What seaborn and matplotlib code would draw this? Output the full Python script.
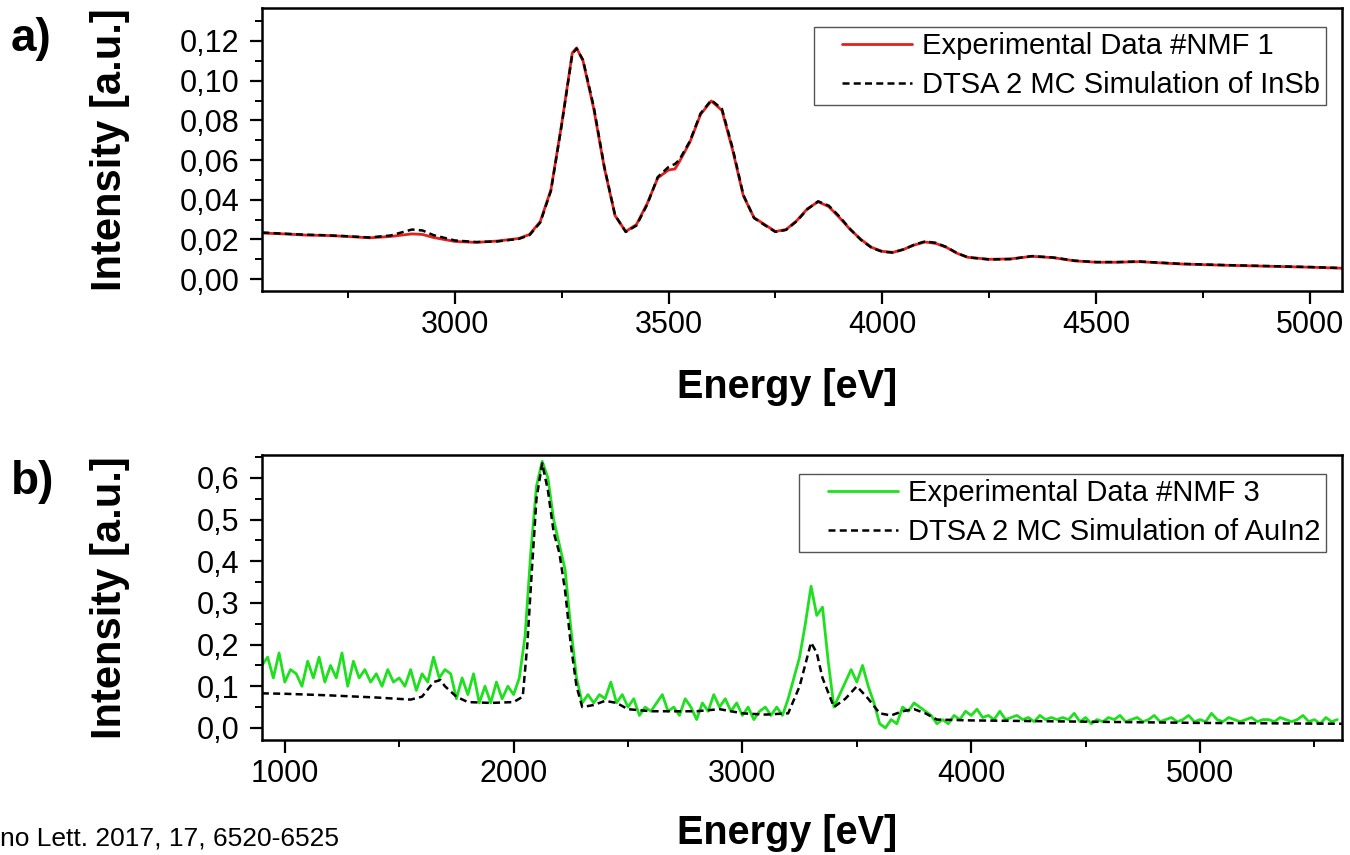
"""EDX spectra of NMF components compared with DTSA 2 Monte Carlo simulations"""
# %% Imports
import numpy as np
import pandas as pd
import seaborn as sns
from matplotlib import pyplot as plt
from matplotlib.lines import Line2D
from matplotlib.legend_handler import HandlerLine2D
from matplotlib.ticker import MultipleLocator, FuncFormatter

# %% Data
# panel a) - NMF component 1 vs InSb simulation
energy_a = [2550, 2600, 2650, 2700, 2750, 2800, 2850, 2900, 2925, 2950, 3000, 3050, 3100, 3150, 3175,
            3200, 3225, 3250, 3275, 3285, 3300, 3325, 3350, 3375, 3400, 3425, 3450, 3475, 3500, 3515,
            3525, 3550, 3575, 3600, 3625, 3650, 3675, 3700, 3725, 3750, 3775, 3800, 3825, 3850, 3875,
            3900, 3925, 3950, 3975, 4000, 4025, 4050, 4075, 4100, 4125, 4150, 4175, 4200, 4250, 4300,
            4350, 4400, 4450, 4500, 4550, 4600, 4650, 4700, 4800, 4900, 5000, 5075]
nmf1_intensity = [0.0232, 0.0228, 0.0222, 0.0220, 0.0215, 0.0208, 0.0215, 0.0228, 0.0225, 0.0210, 0.0190,
                  0.0185, 0.0192, 0.0205, 0.0225, 0.0290, 0.0450, 0.0780, 0.1140, 0.1165, 0.1100, 0.0860,
                  0.0560, 0.0320, 0.0240, 0.0275, 0.0380, 0.0510, 0.0550, 0.0555, 0.0590, 0.0690, 0.0830,
                  0.0898, 0.0850, 0.0650, 0.0420, 0.0310, 0.0275, 0.0240, 0.0250, 0.0295, 0.0355, 0.0390,
                  0.0365, 0.0310, 0.0250, 0.0200, 0.0160, 0.0140, 0.0135, 0.0150, 0.0172, 0.0187, 0.0180,
                  0.0160, 0.0130, 0.0110, 0.0100, 0.0102, 0.0115, 0.0108, 0.0092, 0.0085, 0.0085, 0.0088,
                  0.0082, 0.0076, 0.0070, 0.0065, 0.0060, 0.0055]
insb_sim_intensity = [0.0235, 0.0229, 0.0224, 0.0221, 0.0216, 0.0210, 0.0220, 0.0250, 0.0245, 0.0222, 0.0195,
                      0.0187, 0.0190, 0.0203, 0.0222, 0.0285, 0.0445, 0.0775, 0.1135, 0.1162, 0.1105, 0.0870,
                      0.0565, 0.0322, 0.0238, 0.0270, 0.0375, 0.0515, 0.0565, 0.0580, 0.0600, 0.0695, 0.0835,
                      0.0902, 0.0858, 0.0660, 0.0425, 0.0308, 0.0272, 0.0238, 0.0248, 0.0292, 0.0352, 0.0392,
                      0.0370, 0.0315, 0.0252, 0.0198, 0.0158, 0.0138, 0.0134, 0.0150, 0.0174, 0.0190, 0.0183,
                      0.0162, 0.0131, 0.0110, 0.0099, 0.0101, 0.0116, 0.0109, 0.0093, 0.0086, 0.0086, 0.0089,
                      0.0083, 0.0077, 0.0071, 0.0066, 0.0061, 0.0056]

# panel b) - NMF component 3 vs AuIn2 simulation
energy_b_sim = [900, 1000, 1200, 1400, 1550, 1600, 1650, 1680, 1700, 1750, 1800, 1900, 2000, 2040, 2060,
                2080, 2100, 2125, 2150, 2175, 2200, 2225, 2250, 2275, 2300, 2350, 2400, 2450, 2500, 2600,
                2800, 2900, 3000, 3100, 3200, 3250, 3300, 3325, 3350, 3400, 3450, 3500, 3550, 3600, 3650,
                3700, 3750, 3800, 3850, 4000, 4500, 5000, 5620]
auin2_sim_intensity = [0.083, 0.082, 0.078, 0.073, 0.068, 0.075, 0.110, 0.115, 0.100, 0.075, 0.062, 0.060,
                       0.062, 0.075, 0.200, 0.380, 0.550, 0.635, 0.570, 0.470, 0.420, 0.330, 0.200, 0.100,
                       0.050, 0.055, 0.065, 0.060, 0.045, 0.040, 0.040, 0.045, 0.035, 0.032, 0.035, 0.100,
                       0.205, 0.180, 0.120, 0.050, 0.070, 0.100, 0.070, 0.035, 0.030, 0.040, 0.045, 0.035,
                       0.020, 0.018, 0.015, 0.012, 0.010]
energy_b_exp = np.arange(900, 5625, 25)  # detector channels, 25 eV wide
nmf3_intensity = [0.15, 0.17, 0.12, 0.18, 0.11, 0.14, 0.13, 0.10, 0.16, 0.12,
                  0.17, 0.11, 0.15, 0.12, 0.18, 0.10, 0.16, 0.12, 0.14, 0.11,
                  0.13, 0.10, 0.14, 0.11, 0.12, 0.10, 0.14, 0.09, 0.13, 0.11,
                  0.17, 0.12, 0.14, 0.13, 0.07, 0.12, 0.08, 0.13, 0.06, 0.10,
                  0.06, 0.11, 0.07, 0.10, 0.08, 0.12, 0.22, 0.42, 0.58, 0.64,
                  0.60, 0.50, 0.44, 0.38, 0.24, 0.12, 0.06, 0.08, 0.06, 0.08,
                  0.07, 0.11, 0.06, 0.08, 0.05, 0.07, 0.03, 0.05, 0.04, 0.06,
                  0.08, 0.04, 0.05, 0.03, 0.07, 0.05, 0.02, 0.06, 0.04, 0.08,
                  0.05, 0.07, 0.04, 0.06, 0.03, 0.05, 0.02, 0.04, 0.05, 0.03,
                  0.05, 0.03, 0.07, 0.12, 0.17, 0.25, 0.34, 0.27, 0.29, 0.16,
                  0.05, 0.08, 0.11, 0.14, 0.11, 0.15, 0.10, 0.06, 0.01, 0.00,
                  0.02, 0.01, 0.05, 0.04, 0.06, 0.05, 0.04, 0.03, 0.01, 0.02,
                  0.01, 0.03, 0.02, 0.04, 0.03, 0.045, 0.025, 0.03, 0.02, 0.04,
                  0.02, 0.025, 0.03, 0.02, 0.025, 0.015, 0.03, 0.02, 0.025, 0.02,
                  0.025, 0.02, 0.035, 0.015, 0.025, 0.01, 0.02, 0.015, 0.025, 0.02,
                  0.03, 0.015, 0.02, 0.025, 0.015, 0.02, 0.03, 0.015, 0.02, 0.025,
                  0.015, 0.02, 0.03, 0.015, 0.02, 0.015, 0.035, 0.02, 0.015, 0.025,
                  0.02, 0.015, 0.02, 0.025, 0.015, 0.02, 0.02, 0.015, 0.025, 0.02,
                  0.015, 0.02, 0.03, 0.015, 0.02, 0.01, 0.025, 0.015, 0.02]

# %% Global variables
RED = "#e3211c"
GREEN = "#1fe01f"
DASH = (0, (2.8, 1.7))
FONT = ["Liberation Sans", "DejaVu Sans"]


# %% Functions


def _style_axis(ax, xlim, ylim, x_major, x_minor, y_major, y_minor, y_decimals):
    ax.set_xlim(*xlim)
    ax.set_ylim(*ylim)
    ax.xaxis.set_major_locator(MultipleLocator(x_major))
    ax.xaxis.set_minor_locator(MultipleLocator(x_minor))
    ax.yaxis.set_major_locator(MultipleLocator(y_major))
    ax.yaxis.set_minor_locator(MultipleLocator(y_minor))
    ax.yaxis.set_major_formatter(FuncFormatter(lambda v, _: f"{v:.{y_decimals}f}".replace(".", ",")))
    ax.xaxis.set_major_formatter(FuncFormatter(lambda v, _: f"{v:.0f}"))
    ax.tick_params(which="major", direction="out", length=9, width=1.6, labelsize=22,
                   colors="black", top=False, right=False)
    ax.tick_params(which="minor", direction="out", length=5, width=1.4, colors="black",
                   top=False, right=False)
    ax.tick_params(axis="x", which="major", pad=5)
    ax.tick_params(axis="y", which="major", pad=7)
    for spine in ax.spines.values():
        spine.set_visible(True)
        spine.set_linewidth(1.8)
        spine.set_color("black")
    ax.set_ylabel("Intensity [a.u.]", fontsize=30, fontweight="bold", color="black")
    ax.yaxis.set_label_coords(-0.122, 0.5)
    ax.set_xlabel("Energy [eV]", fontsize=28.5, fontweight="bold", color="black")


def _legend(ax, anchor):
    # xpad pushes the line handle in from the frame, like the original legend box
    leg = ax.legend(loc="upper right", bbox_to_anchor=anchor, frameon=True, fancybox=False,
                    handlelength=3.2, handletextpad=0.35, labelspacing=0.38,
                    borderpad=0.18, borderaxespad=0, prop={"family": FONT, "size": 21},
                    handler_map={Line2D: HandlerLine2D(xpad=0.8)})
    leg.get_frame().set_edgecolor("#555555")
    leg.get_frame().set_linewidth(1.0)
    leg.get_frame().set_alpha(1)
    for text in leg.get_texts():
        text.set_color("black")
    return leg


# %% Plotting
sns.set_theme(style="ticks")
plt.rcParams["font.family"] = FONT
plt.rcParams["text.color"] = "black"

df_a = pd.DataFrame({"energy": energy_a, "exp": nmf1_intensity, "sim": insb_sim_intensity})
df_b_exp = pd.DataFrame({"energy": energy_b_exp, "exp": nmf3_intensity})
df_b_sim = pd.DataFrame({"energy": energy_b_sim, "sim": auin2_sim_intensity})

f = plt.figure(figsize=(13.5, 8.55), dpi=100)
ax1 = f.add_axes([0.194, 0.6596, 0.800, 0.331])
ax2 = f.add_axes([0.194, 0.1345, 0.800, 0.3333])

sns.lineplot(data=df_a, x="energy", y="exp", ax=ax1, color=RED, linewidth=2.0,
             label="Experimental Data #NMF 1")
sns.lineplot(data=df_a, x="energy", y="sim", ax=ax1, color="black", linewidth=1.8,
             linestyle=DASH, label="DTSA 2 MC Simulation of InSb")
_style_axis(ax1, (2549, 5075), (-0.006, 0.1366), 500, 250, 0.02, 0.01, 2)
ax1.xaxis.set_label_coords(0.486, -0.272)
_legend(ax1, (0.985, 0.933))

sns.lineplot(data=df_b_exp, x="energy", y="exp", ax=ax2, color=GREEN, linewidth=2.0,
             label="Experimental Data #NMF 3")
sns.lineplot(data=df_b_sim, x="energy", y="sim", ax=ax2, color="black", linewidth=1.8,
             linestyle=DASH, label="DTSA 2 MC Simulation of AuIn2")
_style_axis(ax2, (900, 5620), (-0.029, 0.655), 1000, 500, 0.1, 0.05, 1)
ax2.xaxis.set_label_coords(0.486, -0.258)
_legend(ax2, (0.985, 0.933))

f.text(0.008, 0.954, "a)", fontsize=33, fontweight="bold", va="center", ha="left")
f.text(0.008, 0.436, "b)", fontsize=33, fontweight="bold", va="center", ha="left")
f.text(0.0, 0.019, "no Lett. 2017, 17, 6520-6525", fontsize=19, va="center", ha="left")

f.savefig("out.png", dpi=100)
